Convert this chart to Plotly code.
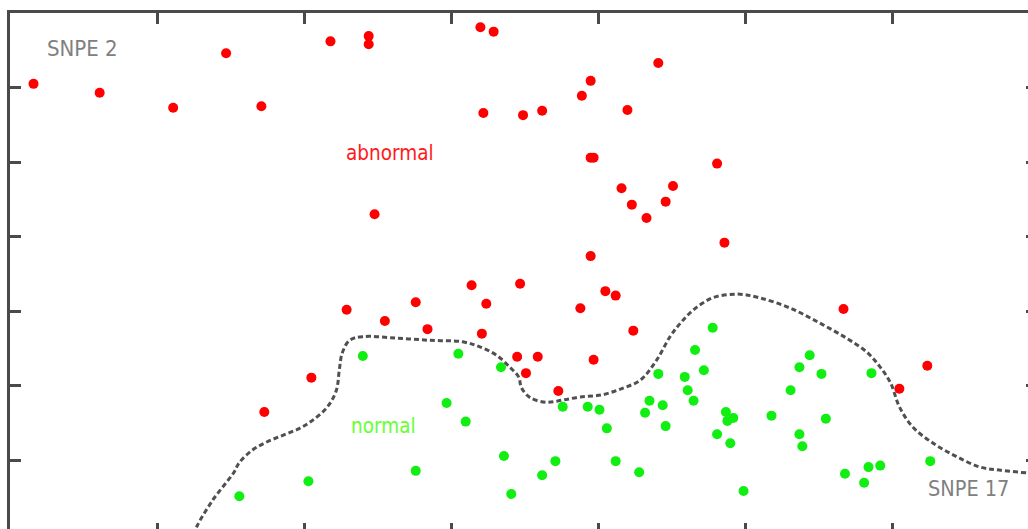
import plotly.graph_objects as go

# abnormal (red) samples: SNPE 17 (x) vs SNPE 2 (y), arbitrary units, ticks every 10
abn_x = [1.6, 6.1, 11.1, 14.7, 17.1, 21.8, 24.4, 24.4, 32.0, 32.9, 44.1, 39.5, 38.9,
         32.2, 34.9, 36.2, 42.0, 39.5, 39.7, 48.1, 24.8, 41.6, 42.3, 43.3, 44.6, 45.1,
         48.6, 39.5, 31.4, 34.7, 22.9, 27.6, 32.4, 38.8, 40.5, 41.2, 56.7, 25.5, 28.4,
         32.1, 42.4, 20.5, 17.3, 34.5, 35.9, 35.1, 39.7, 37.3, 60.5, 62.4]
abn_y = [60.5, 59.3, 57.3, 64.6, 57.5, 66.2, 66.9, 65.8, 68.1, 67.5, 63.3, 60.9, 58.9,
         56.6, 56.3, 56.9, 57.0, 50.6, 50.6, 49.8, 43.0, 46.5, 44.3, 42.5, 44.7, 46.8,
         39.2, 37.4, 33.5, 33.7, 30.2, 31.2, 31.0, 30.4, 32.7, 32.1, 30.3, 28.7, 27.6,
         27.0, 27.4, 21.1, 16.5, 23.9, 23.9, 21.7, 23.5, 19.3, 19.6, 22.7]

# normal (green) samples
nor_x = [15.6, 20.3, 24.0, 30.5, 33.4, 29.7, 31.0, 27.6, 33.6, 34.1, 36.2, 37.1, 37.6,
         39.3, 40.1, 40.6, 41.2, 42.8, 43.2, 43.5, 44.1, 44.4, 44.6, 45.9, 46.1, 46.5,
         46.6, 47.2, 47.8, 48.7, 48.8, 49.2, 48.1, 49.0, 49.9, 51.8, 53.1, 53.7, 54.4,
         55.2, 55.5, 53.7, 53.9, 56.8, 58.1, 58.4, 59.2, 58.6, 62.6]
nor_y = [5.2, 7.2, 24.0, 24.3, 22.5, 17.7, 15.2, 8.6, 10.6, 5.5, 8.0, 9.9, 17.2,
         17.2, 16.8, 14.3, 9.9, 8.4, 16.4, 18.0, 21.6, 17.4, 14.6, 21.2, 19.4, 18.0,
         24.8, 22.1, 27.8, 16.5, 15.3, 15.7, 13.5, 12.3, 5.9, 16.0, 19.4, 22.5, 24.1,
         21.6, 15.6, 13.5, 11.9, 8.2, 7.0, 9.1, 9.3, 21.7, 9.9]

# decision boundary
bnd_x = [12.5, 12.7, 13.8, 15.2, 15.6, 16.5, 17.5, 18.6, 19.7, 20.6, 21.6, 22.2, 22.4,
         22.6, 23.1, 24.0, 26.3, 28.6, 30.8, 32.0, 33.1, 34.0, 34.6, 34.8, 35.4, 36.5,
         37.6, 38.8, 40.3, 41.7, 42.9, 44.0, 44.9, 45.6, 46.5, 47.8, 49.5, 51.0, 53.1,
         55.1, 56.9, 58.3, 59.2, 59.9, 60.5, 61.4, 62.8, 64.4, 66.0, 67.3, 69.3, 70.0]
bnd_y = [0.0, 1.1, 4.7, 8.3, 9.7, 11.4, 12.5, 13.4, 14.3, 15.4, 17.2, 19.4, 22.1,
         24.4, 26.1, 26.6, 26.4, 26.1, 25.9, 25.2, 24.1, 22.5, 21.2, 19.7, 18.4, 17.8,
         18.1, 18.5, 18.8, 19.7, 20.8, 23.5, 26.6, 28.4, 30.2, 31.8, 32.3, 31.8, 30.4,
         28.4, 26.4, 24.5, 22.5, 20.4, 17.2, 14.5, 12.3, 10.5, 9.1, 8.7, 8.3, 8.2]

FONT = "DejaVu Sans Condensed, sans-serif"
AX = "#4a4a4a"

fig = go.Figure()
fig.add_trace(go.Scatter(x=bnd_x, y=bnd_y, mode="lines", line_shape="spline",
                         line=dict(color="#505050", width=3, dash="5px,3px"),
                         hoverinfo="skip", showlegend=False))
fig.add_trace(go.Scatter(x=abn_x, y=abn_y, mode="markers",
                         marker=dict(color="#ff0000", size=10, line=dict(width=0)),
                         showlegend=False))
fig.add_trace(go.Scatter(x=nor_x, y=nor_y, mode="markers",
                         marker=dict(color="#11ee11", size=10, line=dict(width=0)),
                         showlegend=False))
# invisible trace on secondary axes to render opposite-side ticks
fig.add_trace(go.Scatter(x=[None], y=[None], xaxis="x2", yaxis="y2",
                         showlegend=False, hoverinfo="skip"))

XR = [0, 69.25]
YR = [0.8, 70.0]
common = dict(showgrid=False, zeroline=False, showticklabels=False,
              tick0=0, dtick=10, ticks="inside", tickcolor=AX, tickwidth=2.5)

fig.update_layout(
    width=1028, height=529,
    margin=dict(l=10, r=0, t=13, b=0),
    paper_bgcolor="white", plot_bgcolor="white",
    xaxis=dict(range=XR, side="top", showline=True, linecolor=AX, linewidth=2.5,
               ticklen=11, **common),
    yaxis=dict(range=YR, side="left", showline=True, linecolor=AX, linewidth=2.5,
               ticklen=11, **common),
    xaxis2=dict(range=XR, overlaying="x", side="bottom", showline=False,
                ticklen=6, **common),
    yaxis2=dict(range=YR, overlaying="y", side="right", showline=False,
                ticklen=2, **common),
    annotations=[
        dict(x=4.9, y=65.3, text="SNPE 2", showarrow=False, xref="x", yref="y",
             font=dict(family=FONT, size=22, color="#808080")),
        dict(x=25.85, y=51.2, text="abnormal", showarrow=False, xref="x", yref="y",
             font=dict(family=FONT, size=20.5, color="#ff1a1a")),
        dict(x=25.4, y=14.6, text="normal", showarrow=False, xref="x", yref="y",
             font=dict(family=FONT, size=20.5, color="#66ff33")),
        dict(x=65.2, y=6.2, text="SNPE 17", showarrow=False, xref="x", yref="y",
             font=dict(family=FONT, size=21.5, color="#808080")),
    ],
)

fig.write_html("out.html")
